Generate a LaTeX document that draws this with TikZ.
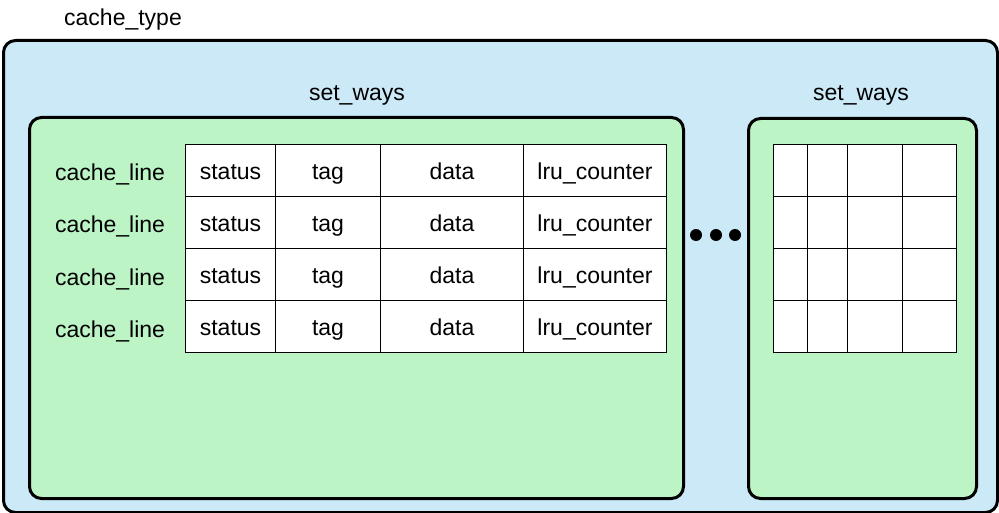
\documentclass[tikz,border=0pt]{standalone}
\usepackage{fontspec}
\setmainfont{Liberation Sans}
\usetikzlibrary{positioning}
\definecolor{typeblue}{HTML}{CBE9F7}
\definecolor{waygreen}{HTML}{BDF4C6}

\begin{document}
\begin{tikzpicture}[x=1pt,y=-1pt,
  box/.style={draw, line width=3pt, rounded corners=12pt, inner sep=0pt, anchor=north west},
  cell/.style={draw, fill=white, line width=1pt, inner sep=0pt, anchor=north west, minimum height=52pt,
    text height=18pt, text depth=0pt},
  lbl/.style={font=\fontsize{23}{27}\selectfont}]
\useasboundingbox (0,0) rectangle (999,513);
% outer cache
\node[box, fill=typeblue, minimum width=994pt, minimum height=472pt] (type) at (2,39) {};
\node[lbl] (typename) at (123,20) {cache\_type};
% two sets of ways
\node[box, fill=waygreen, minimum width=654pt, minimum height=381pt] (wayA) at (28,116) {};
\node[box, fill=waygreen, minimum width=228pt, minimum height=380pt] (wayB) at (747,117) {};
\node[lbl] (wayAname) at (357,95) {set\_ways};
\node[lbl] (wayBname) at (861,95) {set\_ways};
% cache lines
\foreach \r in {0,...,3} {
  \foreach \c/\x/\w/\t in {1/185/90/status, 2/275/105/tag, 3/380/143/data, 4/523/143/lru\_counter} {
    \node[cell, lbl, minimum width=\w pt] (cell-\r-\c) at (\x,144+52*\r) {\t};
  }
  \node[lbl, text height=18pt, text depth=0pt] (line-\r) at (110,172+52*\r) {cache\_line};
  \foreach \c/\x/\w in {1/773/34, 2/807/40, 3/847/55, 4/902/54} {
    \node[cell, minimum width=\w pt] (blank-\r-\c) at (\x,144+52*\r) {};
  }
}
% ellipsis
\foreach \i/\x in {1/696, 2/716, 3/735}
  \node[circle, fill, minimum size=12pt, inner sep=0pt] (dot\i) at (\x,235) {};
\end{tikzpicture}
\end{document}
